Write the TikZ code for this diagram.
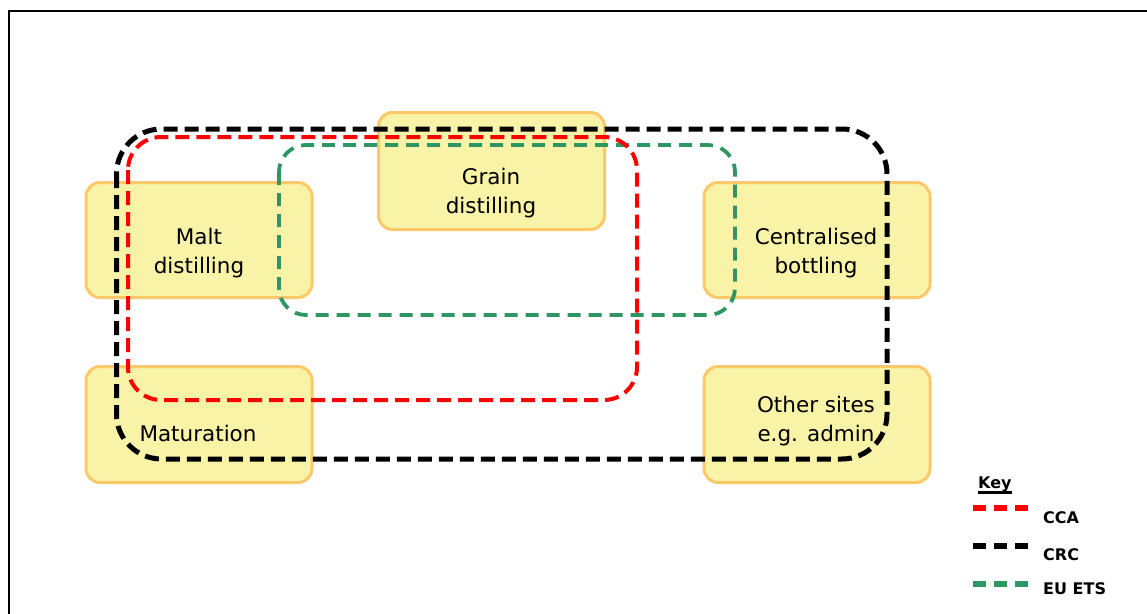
\documentclass[tikz,border=0pt]{standalone}
\usepackage{fontspec}
\setmainfont{DejaVu Sans}
\definecolor{boxfill}{RGB}{248,243,166}
\definecolor{boxline}{RGB}{253,200,105}
\definecolor{etsgreen}{RGB}{46,150,98}
\tikzset{
  sitebox/.style={draw=boxline, fill=boxfill, line width=3pt, rounded corners=14pt,
    minimum width=226pt, inner sep=0pt},
  sitetext/.style={align=center, inner sep=0pt, font=\fontsize{21.5}{29}\selectfont},
  loopline/.style={line width=4pt, dash pattern=on 14pt off 7pt},
  ccaline/.style={loopline, red, rounded corners=33pt},
  crcline/.style={loopline, black, line width=5pt, rounded corners=45pt},
  etsline/.style={loopline, etsgreen, line width=3.8pt, dash pattern=on 13pt off 8pt, rounded corners=27pt},
  keyline/.style={line width=5.5pt, dash pattern=on 13pt off 8pt},
  keytext/.style={anchor=base west, inner sep=0pt, font=\fontsize{16}{18}\selectfont\bfseries}
}
\begin{document}
\begin{tikzpicture}[x=1pt,y=-1pt]
\useasboundingbox (0,0) rectangle (1147,613);
\fill[white] (0,0) rectangle (1147,613);
\draw[line width=2pt] (9,11) rectangle (1170,630);

% boxes
\node[sitebox, minimum height=117pt] (grain) at (491.5,171) {};
\node[sitebox, minimum height=115pt] (malt) at (199,240) {};
\node[sitebox, minimum height=115pt] (bottling) at (817,240) {};
\node[sitebox, minimum height=116pt] (maturation) at (199,424.5) {};
\node[sitebox, minimum height=116pt] (other) at (817,424.5) {};

% box texts
\node[sitetext] (grainT) at (491,193) {Grain\\distilling};
\node[sitetext] (maltT) at (199,253) {Malt\\distilling};
\node[sitetext] (bottlingT) at (816,253) {Centralised\\bottling};
\node[sitetext] (maturationT) at (198,433) {Maturation};
\node[sitetext] (otherT) at (816,421) {Other sites\\e.g. admin};

% scheme boundaries
\draw[etsline] (279,145) rectangle (735,315);
\draw[ccaline] (128,137) rectangle (637,400);
\draw[crcline] (116.5,129) rectangle (887,459);

% key
\node[keytext] (key) at (978,488) {Key};
\draw[line width=2.5pt] ([yshift=-4.5pt]key.base west) -- ([yshift=-4.5pt]key.base east);
\coordinate (k1a) at (973,508); \coordinate (k1b) at (1028,508);
\coordinate (k2a) at (973,546); \coordinate (k2b) at (1028,546);
\coordinate (k3a) at (973,584); \coordinate (k3b) at (1028,584);
\draw[keyline, red] (k1a) -- (k1b);
\draw[keyline, black] (k2a) -- (k2b);
\draw[keyline, etsgreen] (k3a) -- (k3b);
\node[keytext] (cca) at (1043,523) {CCA};
\node[keytext] (crc) at (1043,560) {CRC};
\node[keytext] (ets) at (1043,594) {EU ETS};
\end{tikzpicture}
\end{document}
